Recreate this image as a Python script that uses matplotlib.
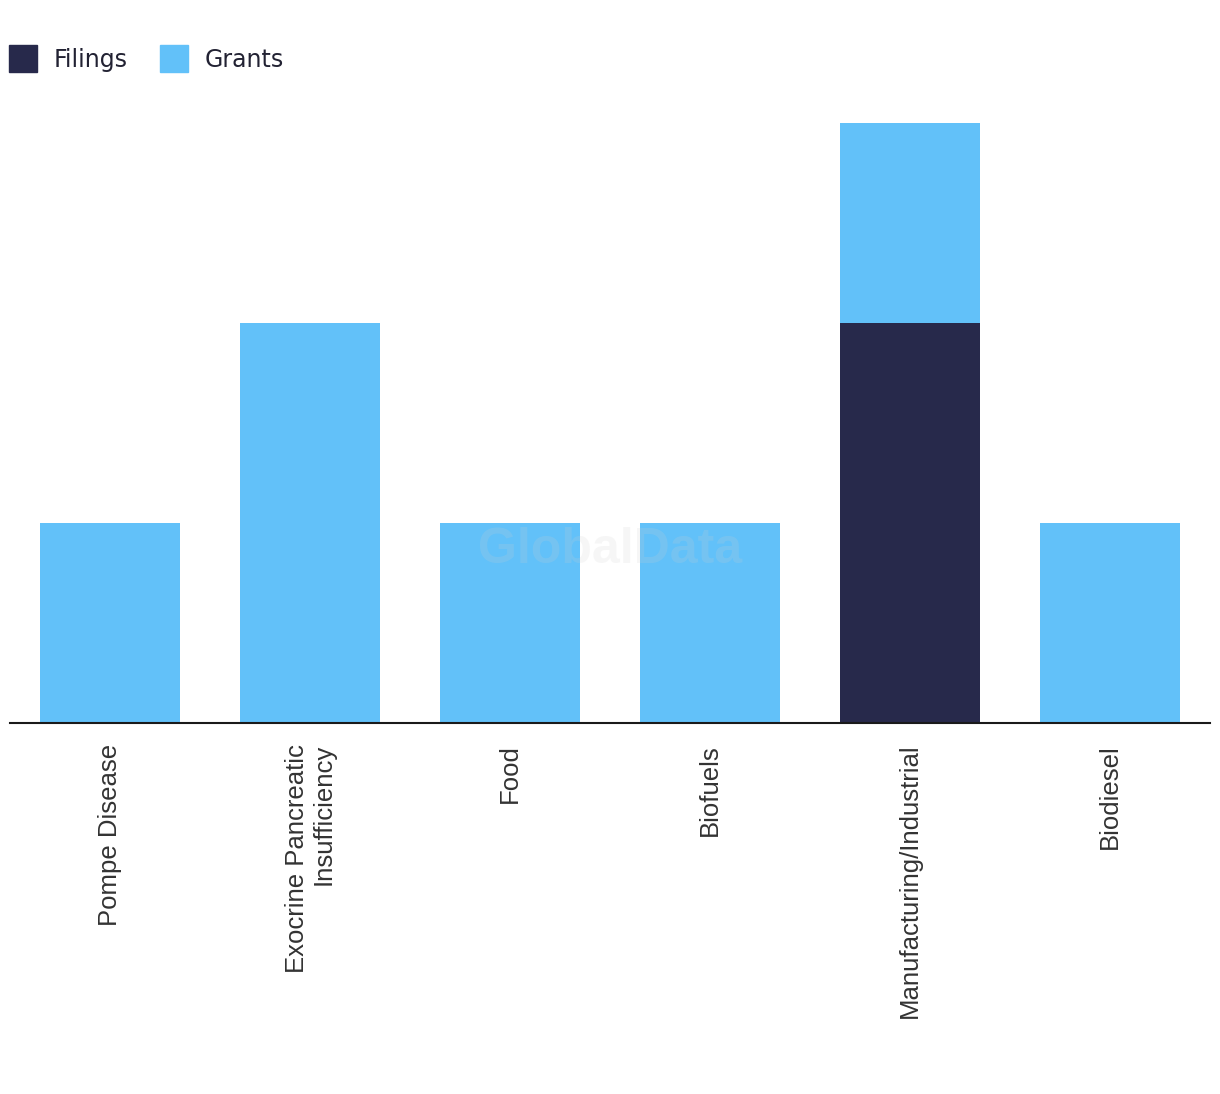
import matplotlib.pyplot as plt
from matplotlib.patches import Patch

categories = ["Pompe Disease", "Exocrine Pancreatic\nInsufficiency", "Food",
              "Biofuels", "Manufacturing/Industrial", "Biodiesel"]
filings = [0, 0, 0, 0, 2, 0]
grants = [1, 2, 1, 1, 1, 1]

FILINGS_COLOR = "#27294B"
GRANTS_COLOR = "#62C1F9"

fig = plt.figure(figsize=(12.2, 10.94), dpi=100)
ax = fig.add_axes([10 / 1220, 1 - 723 / 1094, 1200 / 1220, 600 / 1094])

x = list(range(len(categories)))
ax.bar(x, filings, width=0.7, color=FILINGS_COLOR, zorder=2)
ax.bar(x, grants, width=0.7, bottom=filings, color=GRANTS_COLOR, zorder=2)

ax.set_xlim(-0.5, len(categories) - 0.5)
ax.set_ylim(0, 3)
for s in ["top", "right", "left"]:
    ax.spines[s].set_visible(False)
ax.spines["bottom"].set_color("#1a1a1a")
ax.spines["bottom"].set_linewidth(1.5)
ax.spines["bottom"].set_zorder(3)
ax.set_yticks([])
ax.set_xticks(x)
ax.set_xticklabels(categories, rotation=90, fontsize=18.5, family="Liberation Sans",
                   color="#333333", va="top", ha="center", multialignment="right",
                   linespacing=1.15)
ax.tick_params(axis="x", length=0, pad=15)

# watermark
fig.text(610 / 1220, 1 - 550 / 1094, "GlobalData", fontsize=36, fontweight="bold",
         family="Liberation Sans", color="#d0d0d0", alpha=0.18, ha="center", va="center",
         zorder=5)

handles = [Patch(color=FILINGS_COLOR, label="Filings"), Patch(color=GRANTS_COLOR, label="Grants")]
fig.legend(handles=handles, loc="upper left", bbox_to_anchor=(2 / 1220, 1 - 38 / 1094),
           ncol=2, frameon=False, handlelength=1.2, handleheight=1.4,
           handletextpad=0.7, columnspacing=1.35, borderaxespad=0, borderpad=0.3,
           labelcolor="#222233", prop={"family": "DejaVu Sans", "size": 17})

fig.savefig("out.png", dpi=100)
